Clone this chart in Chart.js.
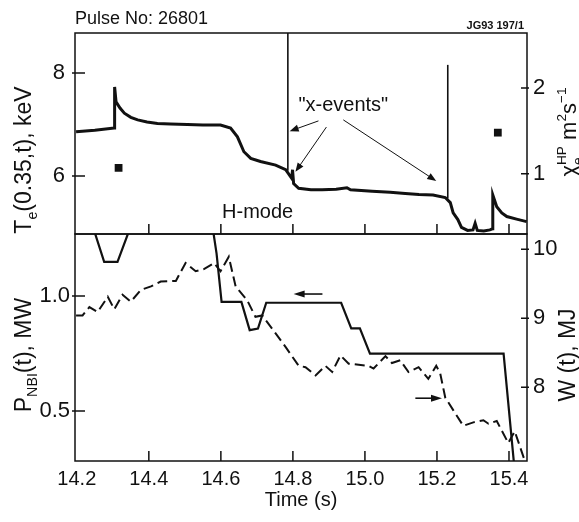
<!DOCTYPE html>
<html>
<head>
<meta charset="utf-8">
<script src="https://cdn.jsdelivr.net/npm/chart.js@4"></script>
<style>
 body{margin:0;background:#fff;}
 #wrap{position:relative;width:579px;height:522px;background:#fff;}
 canvas{position:absolute;left:0;top:0;}
</style>
</head>
<body>
<div id="wrap">
 <canvas id="top" width="579" height="522"></canvas>
 <canvas id="bot" width="579" height="522"></canvas>
</div>
<script>
/* ---------- DATA ---------- */
// top panel: Te(0.35,t) in keV
const teTime=[14.198,14.250,14.304,14.305,14.309,14.320,14.332,14.350,14.369,14.395,14.424,14.460,14.507,14.550,14.599,14.627,14.646,14.664,14.683,14.710,14.752,14.780,14.793,14.797,14.799,14.802,14.816,14.850,14.881,14.920,14.950,14.960,15.020,15.070,15.112,15.150,15.189,15.223,15.237,15.245,15.258,15.268,15.285,15.300,15.306,15.312,15.330,15.347,15.354,15.355,15.366,15.380,15.394,15.421,15.449];
const teVal=[6.86,6.89,6.93,7.73,7.44,7.32,7.22,7.14,7.09,7.05,7.02,7.01,7.00,6.99,6.99,6.93,6.76,6.47,6.34,6.28,6.21,6.12,5.99,5.95,6.12,5.85,5.76,5.73,5.73,5.74,5.77,5.73,5.70,5.68,5.66,5.64,5.63,5.58,5.48,5.28,5.15,5.00,4.94,4.95,5.08,4.94,4.93,4.95,4.97,5.63,5.40,5.28,5.21,5.16,5.11];
// "x-event" spikes
const spikeTime=[14.786,15.230];
const spikeFrom=[6.10,5.56];
const spikeTo=[8.78,8.16];
// chi_e^HP (m^2/s) squares
const chiTime=[14.316,15.369];
const chiVal=[1.07,1.48];
// bottom panel: P_NBI (MW) solid, W (MJ) dashed
const pTime=[14.200,14.245,14.276,14.313,14.349,14.577,14.588,14.602,14.657,14.680,14.703,14.726,14.934,14.962,14.986,15.014,15.385,15.413,15.418];
const pVal=[1.30,1.30,1.149,1.149,1.30,1.30,1.186,0.975,0.975,0.852,0.859,0.971,0.971,0.86,0.86,0.75,0.75,0.287,0.20];
const wTime=[14.198,14.216,14.235,14.258,14.286,14.304,14.327,14.350,14.378,14.406,14.433,14.475,14.502,14.530,14.553,14.581,14.599,14.622,14.641,14.673,14.696,14.715,14.752,14.780,14.816,14.835,14.863,14.890,14.909,14.932,14.955,15.010,15.024,15.057,15.075,15.098,15.121,15.149,15.176,15.198,15.209,15.223,15.246,15.273,15.301,15.329,15.343,15.366,15.398,15.416,15.444];
const wVal=[9.04,9.04,9.16,9.09,9.31,9.13,9.34,9.24,9.41,9.46,9.53,9.54,9.80,9.68,9.71,9.80,9.68,9.89,9.46,9.26,9.02,9.04,8.78,8.58,8.31,8.29,8.17,8.31,8.22,8.46,8.34,8.31,8.27,8.45,8.35,8.39,8.22,8.29,8.12,8.31,8.20,7.85,7.66,7.44,7.49,7.52,7.47,7.51,7.19,7.36,6.93];
// ticks
const timeTicks=[14.2,14.4,14.6,14.8,15.0,15.2,15.4];
const teTicks=[6,8];
const chiTicks=[1,2];
const pTicks=[0.5,1.0];
const wTicks=[8,9,10];

/* ---------- HELPERS ---------- */
const FONT='"Liberation Sans", Arial, sans-serif';
const INK='#111';
Chart.defaults.font.family=FONT;
Chart.defaults.color=INK;

const xy=(xs,ys)=>xs.map((x,i)=>({x:x,y:ys[i]}));
const fixW=w=>s=>{s.width=w;};
const fixH=h=>s=>{s.height=h;};
const setTicks=arr=>s=>{s.ticks=arr.map(v=>({value:v}));};

function arrow(ctx,x1,y1,x2,y2,len,half,lw){
 let a=Math.atan2(y2-y1,x2-x1);
 ctx.save();
 ctx.strokeStyle=INK;ctx.fillStyle=INK;ctx.lineWidth=lw;
 ctx.beginPath();ctx.moveTo(x1,y1);
 ctx.lineTo(x2-Math.cos(a)*len*0.8,y2-Math.sin(a)*len*0.8);ctx.stroke();
 ctx.beginPath();ctx.moveTo(x2,y2);
 ctx.lineTo(x2-Math.cos(a)*len-Math.sin(a)*half,y2-Math.sin(a)*len+Math.cos(a)*half);
 ctx.lineTo(x2-Math.cos(a)*len+Math.sin(a)*half,y2-Math.sin(a)*len-Math.cos(a)*half);
 ctx.closePath();ctx.fill();
 ctx.restore();
}

// rich text: parts [text, kind]; kind ''|'sub'|'sup'|'over' (sup stacked above previous sub)
function rich(ctx,parts,x,y,rot,size){
 ctx.save();
 ctx.translate(x,y);ctx.rotate(rot);
 ctx.fillStyle=INK;ctx.textBaseline='alphabetic';ctx.textAlign='left';
 let pos=[],cx=0,prevStart=0;
 parts.forEach(p=>{
  let fs=p[1]?size*0.62:size;
  ctx.font=fs+'px '+FONT;
  let w=ctx.measureText(p[0]).width;
  let dy=p[1]=='sub'?size*0.28:(p[1]=='sup'||p[1]=='over')?-size*0.45:0;
  if(p[1]=='over'){
   pos.push({t:p[0],fs:fs,x:prevStart,dy:dy});
   cx=Math.max(cx,prevStart+w);
  }else{
   pos.push({t:p[0],fs:fs,x:cx,dy:dy});
   prevStart=cx;cx+=w;
  }
 });
 pos.forEach(p=>{
  ctx.font=p.fs+'px '+FONT;
  ctx.fillText(p.t,p.x-cx/2,p.dy);
 });
 ctx.restore();
}

function frameAndTicks(chart,yl,yr,ylT,yrT){
 const {ctx,chartArea:a,scales}=chart;
 ctx.save();
 ctx.strokeStyle=INK;ctx.lineWidth=1.5;
 ctx.strokeRect(a.left,a.top,a.right-a.left,a.bottom-a.top);
 ctx.beginPath();
 timeTicks.forEach(t=>{
  let px=scales.x.getPixelForValue(t);
  if(px<a.left+2) return;
  ctx.moveTo(px,a.bottom);ctx.lineTo(px,a.bottom-10);
 });
 ylT.forEach(v=>{let py=scales[yl].getPixelForValue(v);ctx.moveTo(a.left-3,py);ctx.lineTo(a.left+10,py);});
 yrT.forEach(v=>{let py=scales[yr].getPixelForValue(v);ctx.moveTo(a.right-6,py);ctx.lineTo(a.right+2,py);});
 ctx.stroke();
 ctx.restore();
}

/* ---------- TOP PANEL ---------- */
const decorTop={
 id:'decorTop',
 afterDraw(chart){
  const {ctx,scales:{x,y}}=chart;
  frameAndTicks(chart,'y','y2',teTicks,chiTicks);
  ctx.save();
  ctx.fillStyle=INK;
  ctx.font='18px '+FONT;ctx.textAlign='left';ctx.textBaseline='alphabetic';
  ctx.fillText('Pulse No: 26801',75,24);
  ctx.font='bold 11px '+FONT;ctx.textAlign='right';
  ctx.fillText('JG93 197/1',524,29);
  ctx.font='20px '+FONT;ctx.textAlign='center';ctx.textBaseline='middle';
  ctx.fillText('"x-events"',x.getPixelForValue(14.94),y.getPixelForValue(7.37));
  ctx.fillText('H-mode',x.getPixelForValue(14.702),y.getPixelForValue(5.28));
  ctx.restore();
  // arrows from the label to the events
  [[14.871,7.07,14.791,6.87],[14.893,6.95,14.807,6.08],[14.940,7.09,15.198,5.90]].forEach(r=>{
   arrow(ctx,x.getPixelForValue(r[0]),y.getPixelForValue(r[1]),x.getPixelForValue(r[2]),y.getPixelForValue(r[3]),9,3.5,1);
  });
  rich(ctx,[['T',''],['e','sub'],['(0.35,t), keV','']],31,160,-Math.PI/2,23);
  rich(ctx,[['\u03c7',''],['e','sub'],['HP','over'],[' m',''],['2','sup'],['s',''],['\u22121','sup']],576,132,-Math.PI/2,22);
 }
};

const spikeSets=spikeTime.map((t,i)=>({data:[{x:t,y:spikeFrom[i]},{x:t,y:spikeTo[i]}],showLine:true,borderColor:INK,borderWidth:1.6,pointRadius:0,yAxisID:'y'}));

new Chart(document.getElementById('top'),{
 type:'scatter',
 data:{datasets:[
  {data:xy(teTime,teVal),showLine:true,borderColor:INK,borderWidth:3,pointRadius:0,tension:0,yAxisID:'y'},
  ...spikeSets,
  {data:xy(chiTime,chiVal),showLine:false,pointStyle:'rect',pointRadius:5.5,backgroundColor:INK,borderWidth:0,yAxisID:'y2'}
 ]},
 options:{
  responsive:false,animation:false,events:[],
  layout:{padding:{left:0,right:0,top:33,bottom:0}},
  plugins:{legend:{display:false},tooltip:{enabled:false}},
  scales:{
   x:{type:'linear',min:14.195,max:15.45,afterFit:fixH(288),afterBuildTicks:setTicks(timeTicks),
      ticks:{display:false},grid:{display:false,drawTicks:false},border:{display:false}},
   y:{position:'left',min:4.87,max:8.78,afterFit:fixW(75),afterBuildTicks:setTicks(teTicks),
      ticks:{padding:10,font:{size:22},callback:v=>String(v)},grid:{display:false,drawTicks:false},border:{display:false}},
   y2:{position:'right',min:0.30,max:2.64,afterFit:fixW(52),afterBuildTicks:setTicks(chiTicks),
      ticks:{padding:6,font:{size:22},callback:v=>String(v)},grid:{display:false,drawTicks:false},border:{display:false}}
  }
 },
 plugins:[decorTop]
});

/* ---------- BOTTOM PANEL ---------- */
const decorBot={
 id:'decorBot',
 afterDraw(chart){
  const {ctx,scales:{x,y,y2}}=chart;
  frameAndTicks(chart,'y','y2',pTicks,wTicks);
  arrow(ctx,x.getPixelForValue(14.882),y.getPixelForValue(1.009),x.getPixelForValue(14.802),y.getPixelForValue(1.009),11,3.5,1.6);
  arrow(ctx,x.getPixelForValue(15.140),y2.getPixelForValue(7.84),x.getPixelForValue(15.214),y2.getPixelForValue(7.84),11,3.5,1.6);
  rich(ctx,[['P',''],['NBI','sub'],['(t), MW','']],31,355,-Math.PI/2,23);
  rich(ctx,[['W (t), MJ','']],575,355,-Math.PI/2,23);
 }
};

new Chart(document.getElementById('bot'),{
 type:'scatter',
 data:{datasets:[
  {data:xy(pTime,pVal),showLine:true,borderColor:INK,borderWidth:2.2,pointRadius:0,yAxisID:'y'},
  {data:xy(wTime,wVal),showLine:true,borderColor:INK,borderWidth:2,borderDash:[10,5],pointRadius:0,yAxisID:'y2'}
 ]},
 options:{
  responsive:false,animation:false,events:[],
  layout:{padding:{left:0,right:0,top:234,bottom:0}},
  plugins:{legend:{display:false},tooltip:{enabled:false}},
  scales:{
   x:{type:'linear',min:14.195,max:15.45,afterFit:fixH(61),afterBuildTicks:setTicks(timeTicks),
      ticks:{padding:6,font:{size:20},maxRotation:0,callback:v=>v.toFixed(1)},
      grid:{display:false,drawTicks:false},border:{display:false},
      title:{display:true,text:'Time (s)',font:{size:20},padding:{top:0,bottom:10}}},
   y:{position:'left',min:0.283,max:1.27,afterFit:fixW(75),afterBuildTicks:setTicks(pTicks),
      ticks:{padding:5,font:{size:22},callback:v=>v.toFixed(1)},grid:{display:false,drawTicks:false},border:{display:false}},
   y2:{position:'right',min:6.93,max:10.22,afterFit:fixW(52),afterBuildTicks:setTicks(wTicks),
      ticks:{padding:6,font:{size:22},callback:v=>String(v)},grid:{display:false,drawTicks:false},border:{display:false}}
  }
 },
 plugins:[decorBot]
});
</script>
</body>
</html>
